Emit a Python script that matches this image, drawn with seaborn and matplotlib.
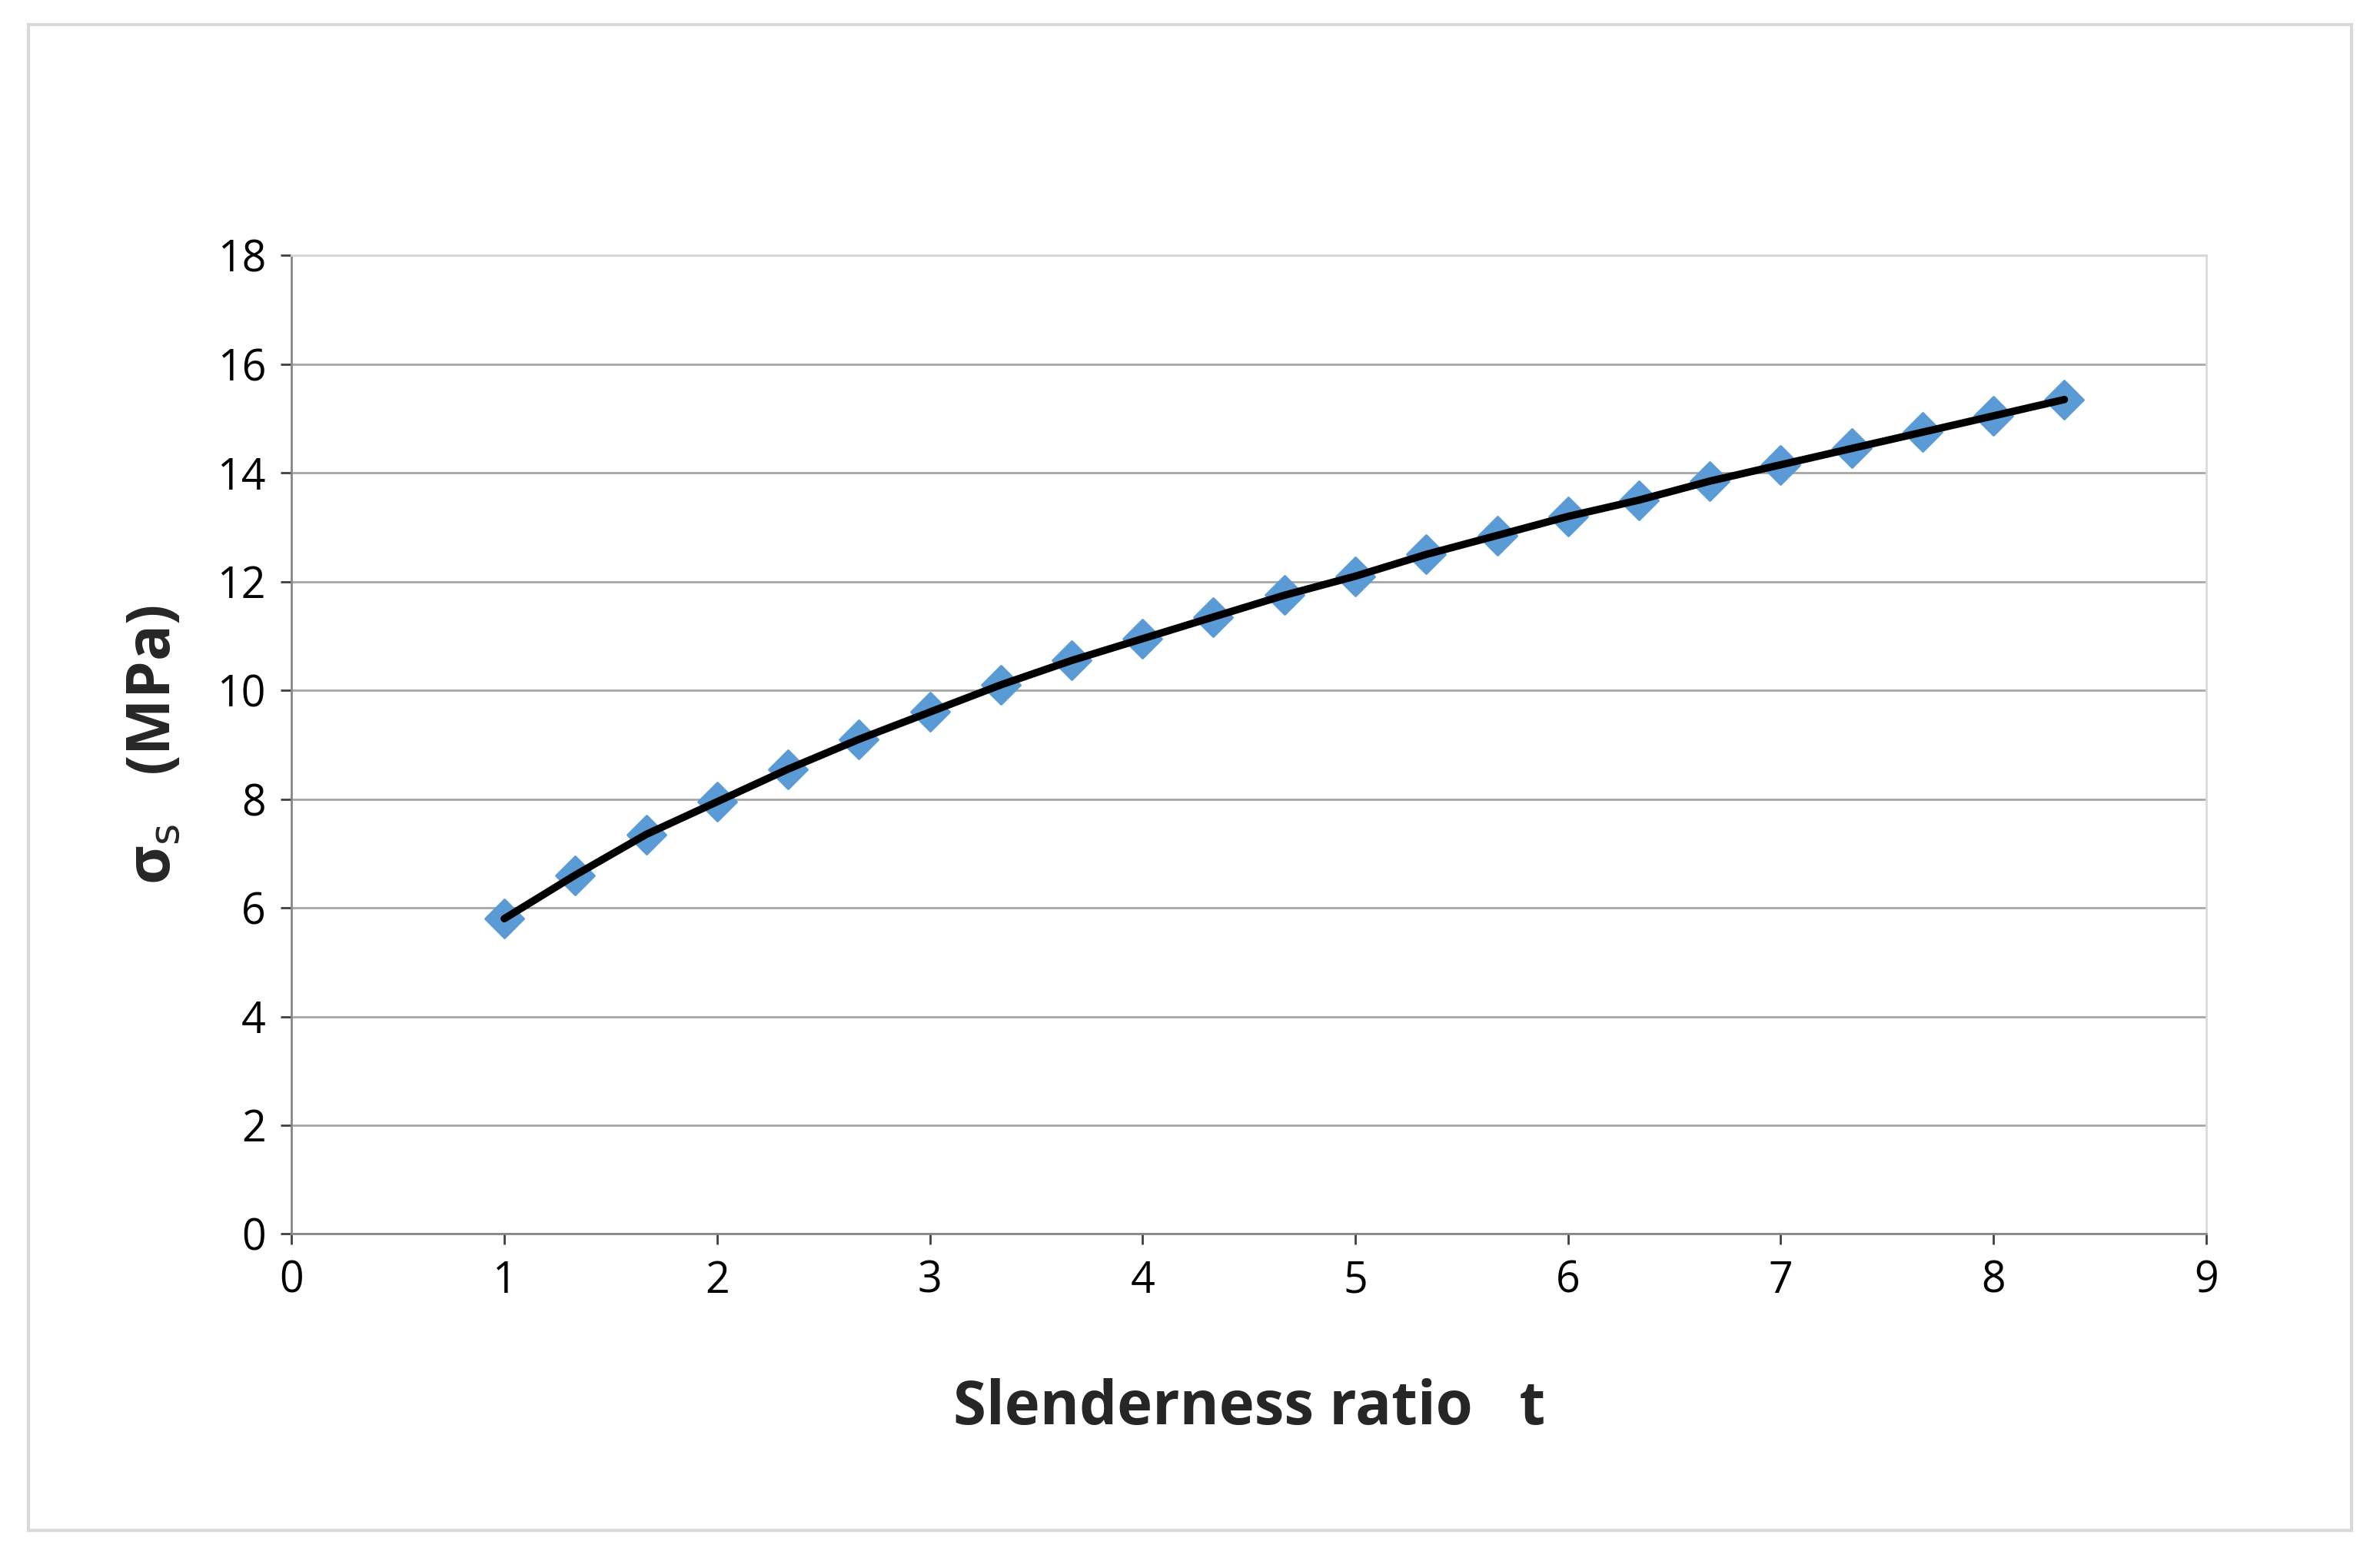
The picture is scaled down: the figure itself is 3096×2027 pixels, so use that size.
import matplotlib
matplotlib.use("Agg")
import matplotlib.pyplot as plt
import seaborn as sns
import pandas as pd
from matplotlib.patches import Rectangle

# data
slenderness = [1.0, 1.333, 1.667, 2.0, 2.333, 2.667, 3.0, 3.333, 3.667, 4.0, 4.333, 4.667,
               5.0, 5.333, 5.667, 6.0, 6.333, 6.667, 7.0, 7.333, 7.667, 8.0, 8.333]
sigma_s = [5.8, 6.6, 7.35, 7.95, 8.55, 9.1, 9.6, 10.1, 10.55, 10.95, 11.35, 11.75,
           12.1, 12.5, 12.85, 13.2, 13.5, 13.85, 14.15, 14.45, 14.75, 15.05, 15.35]

df = pd.DataFrame({"t": slenderness, "sigma": sigma_s})

sns.set_style("white")
plt.rcParams['font.family'] = ['Open Sans', 'DejaVu Sans']

fig = plt.figure(figsize=(30.96, 20.27), dpi=100)
fig.patches.append(Rectangle((0.012, 0.018), 0.976, 0.966, transform=fig.transFigure,
                             fill=False, edgecolor='#d9d9d9', linewidth=3))
ax = fig.add_axes([0.1225, 0.208, 0.8045, 0.628])

sns.scatterplot(data=df, x="t", y="sigma", marker="D", s=650, color="#5B9BD5",
                edgecolor="#5B9BD5", ax=ax, zorder=3)
sns.lineplot(data=df, x="t", y="sigma", color="black", linewidth=7, ax=ax, zorder=4)

ax.set_xlim(0, 9)
ax.set_ylim(0, 18)
ax.set_xticks(range(0, 10))
ax.set_yticks(range(0, 19, 2))
ax.yaxis.grid(True, color="#a6a6a6", linewidth=2)
for s in ["top", "right"]:
    ax.spines[s].set_color("#d9d9d9")
    ax.spines[s].set_linewidth(2)
for s in ["left", "bottom"]:
    ax.spines[s].set_color("#868686")
    ax.spines[s].set_linewidth(2)
ax.tick_params(axis="both", labelsize=40, colors="#404040", length=10, width=2,
               direction="out", bottom=True, left=True, pad=14)
ax.tick_params(axis="both", labelcolor="black")

ax.set_xlabel("Slenderness ratio   t", fontsize=56, fontweight="bold", labelpad=70)
ax.set_ylabel(r"σ$_{\rm s}$   (MPa)", fontsize=56, fontweight="bold", labelpad=30)

fig.savefig("out.png", dpi=100)
